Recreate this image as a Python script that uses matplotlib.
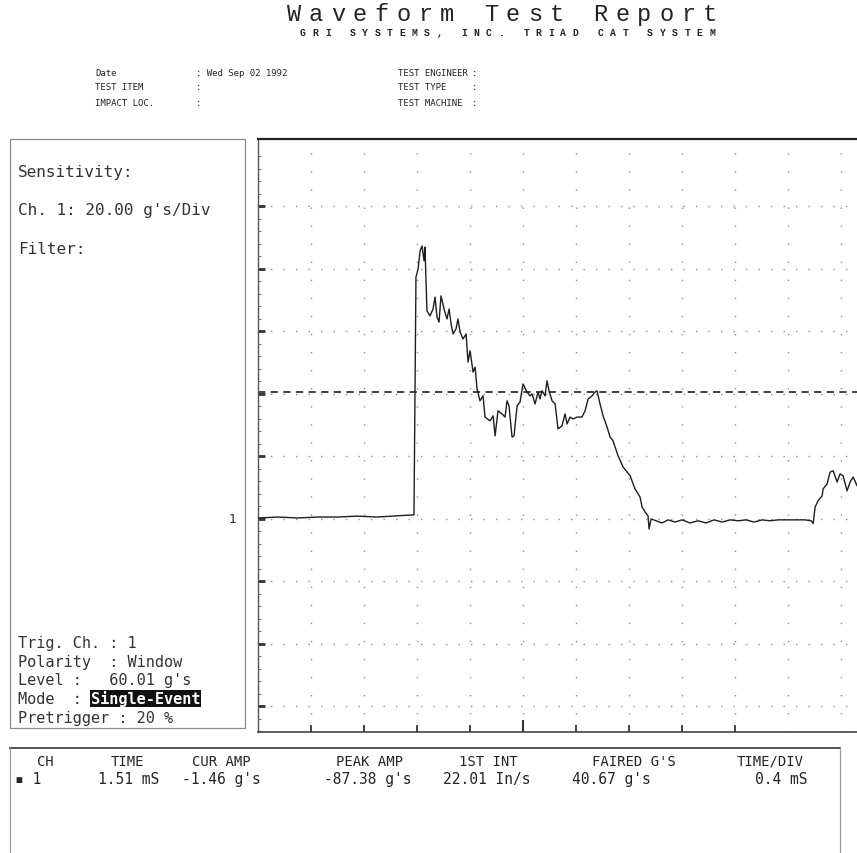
import matplotlib.pyplot as plt
from matplotlib.patches import Rectangle
from matplotlib.lines import Line2D
from matplotlib.ticker import FixedLocator
import matplotlib.transforms as mtransforms

# page size in pixels (dpi 100)
W, H = 857, 854

# channel 1 waveform: time (ms) and acceleration (g)
t_ms = [0.000, 0.150, 0.300, 0.450, 0.600, 0.750, 0.900, 1.050, 1.177,
        1.192, 1.208, 1.223, 1.238, 1.253, 1.260, 1.275, 1.298, 1.321, 1.336,
        1.351, 1.366, 1.381, 1.404, 1.426, 1.442, 1.457, 1.472, 1.494, 1.509,
        1.525, 1.547, 1.570, 1.585, 1.600, 1.623, 1.638, 1.653, 1.675, 1.698,
        1.713, 1.751, 1.774, 1.789, 1.811, 1.842, 1.864, 1.879, 1.894, 1.917,
        1.932, 1.955, 1.977, 2.000, 2.030, 2.053, 2.068, 2.091, 2.113, 2.128,
        2.143, 2.166, 2.181, 2.196, 2.219, 2.242, 2.264, 2.294, 2.317, 2.332,
        2.355, 2.377, 2.408, 2.445, 2.468, 2.491, 2.521, 2.543, 2.558, 2.581,
        2.604, 2.634, 2.657, 2.679, 2.717, 2.755, 2.808, 2.845, 2.883, 2.898,
        2.921, 2.943, 2.951, 2.966,
        3.004, 3.049, 3.094, 3.147, 3.200, 3.260, 3.321, 3.381, 3.442, 3.502,
        3.562, 3.623, 3.683, 3.743, 3.804, 3.864, 3.925, 4.015, 4.128, 4.174,
        4.189, 4.204, 4.226, 4.257, 4.264, 4.294, 4.317, 4.340, 4.370, 4.392,
        4.415, 4.445, 4.468, 4.491, 4.521]
accel_g = [0.3, 0.6, 0.3, 0.6, 0.6, 0.9, 0.6, 1.0, 1.3,
           77.4, 80.0, 85.8, 87.38, 82.6, 87.0, 66.6, 65.0, 67.2, 71.0,
           64.6, 63.0, 71.4, 67.2, 64.0, 67.2, 62.4, 59.2, 60.8, 64.0,
           59.8, 57.6, 59.2, 50.2, 53.8, 47.0, 48.6, 41.6, 37.8, 39.4,
           32.6, 31.4, 33.0, 26.6, 34.6, 33.6, 32.6, 37.8, 36.2, 26.2,
           26.6, 36.2, 37.4, 43.2, 40.6, 39.4, 40.0, 36.8, 40.6, 38.4,
           41.0, 39.4, 44.2, 41.0, 37.8, 36.8, 28.8, 29.8, 33.6, 30.4,
           32.6, 32.0, 32.6, 32.6, 34.6, 38.4, 39.4, 40.6, 41.0, 36.8,
           33.0, 29.4, 26.2, 25.0, 20.2, 16.6, 13.8, 9.6, 7.0, 3.8,
           2.2, 1.0, -3.2, 0.0,
           -0.6, -1.3, -0.3, -1.0, -0.3, -1.3, -0.6, -1.3, -0.3, -1.0,
           -0.3, -0.6, -0.3, -1.0, -0.3, -0.6, -0.3, -0.3, -0.3, -0.6,
           -1.46, 3.8, 5.8, 7.4, 9.6, 11.2, 15.0, 15.4, 11.8, 14.4,
           13.8, 9.0, 11.8, 13.4, 10.6]

faired_g = 40.67
g_per_div = 20
ms_per_div = 0.4

title = "Waveform Test Report"
subtitle = "GRI SYSTEMS, INC. TRIAD CAT SYSTEM"
info_left = [("Date", ": Wed Sep 02 1992"), ("TEST ITEM", ":"), ("IMPACT LOC.", ":")]
info_right = [("TEST ENGINEER", ":"), ("TEST TYPE", ":"), ("TEST MACHINE", ":")]

sens_lines = ["Sensitivity:", "Ch. 1: 20.00 g's/Div", "Filter:"]
trig_lines = ["Trig. Ch. : 1", "Polarity  : Window", "Level :   60.01 g's",
              "Mode  :", "Pretrigger : 20 %"]
mode_value = "Single-Event"

col_heads = ["CH", "TIME", "CUR AMP", "PEAK AMP", "1ST INT", "FAIRED G'S", "TIME/DIV"]
col_vals = ["\u25aa 1", "1.51 mS", "-1.46 g's", "-87.38 g's", "22.01 In/s", "40.67 g's", "0.4 mS"]


def fx(x):
    return x / W


def fy(y):
    return 1 - y / H


ink = '#242424'
soft = '#333333'
mono = 'DejaVu Sans Mono'

fig = plt.figure(figsize=(W / 100, H / 100), dpi=100)
fig.patch.set_facecolor('white')

# --- header ---
for i, ch in enumerate(title):
    fig.text(fx(294 + i * 21.9), fy(21), ch, ha='center', va='baseline',
             fontsize=17, family='Liberation Mono', color=ink)
for i, ch in enumerate(subtitle):
    fig.text(fx(303 + i * 12.4), fy(28.5), ch, ha='center', va='top',
             fontsize=7, family='Liberation Mono', weight='bold', color=ink)

for k, (lab, val) in enumerate(info_left):
    y = fy(73 + k * 15)
    fig.text(fx(95), y, lab, ha='left', va='center', fontsize=6.5, family=mono, color=ink)
    fig.text(fx(196), y, val, ha='left', va='center', fontsize=6.5, family=mono, color=ink)
for k, (lab, val) in enumerate(info_right):
    y = fy(73 + k * 15)
    fig.text(fx(398), y, lab, ha='left', va='center', fontsize=6.5, family=mono, color=ink)
    fig.text(fx(472), y, val, ha='left', va='center', fontsize=6.5, family=mono, color=ink)

# --- left settings panel ---
fig.add_artist(Rectangle((fx(10), fy(729)), fx(245) - fx(10), fy(140) - fy(729),
                         transform=fig.transFigure, fill=False, ec='#8a8a8a', lw=0.9))
for k, s in enumerate(sens_lines):
    fig.text(fx(18), fy(172 + k * 39), s, ha='left', va='center',
             fontsize=11.5, family=mono, color=soft)
for k, s in enumerate(trig_lines):
    fig.text(fx(18), fy(644 + k * 18.5), s, ha='left', va='center',
             fontsize=11, family=mono, color=soft)
fig.text(fx(91), fy(644 + 3 * 18.5), mode_value, ha='left', va='center',
         fontsize=11, family=mono, weight='bold', color='white',
         bbox=dict(facecolor='#111111', edgecolor='none', pad=0.6))

# --- waveform axes ---
ax = fig.add_axes([fx(258), fy(733), fx(857) - fx(258), fy(140) - fy(733)])
ax.set_xlim(0, 4.52)
ax.set_ylim(-68.2, 121.6)

for k in range(1, 12):
    ax.axvline(k * ms_per_div, color='#8c8c8c', lw=1.0, ls=(0, (1, 12)), zorder=1)
for g in range(-60, 101, g_per_div):
    ax.axhline(g, color='#8c8c8c', lw=1.0, ls=(0, (1, 8)), zorder=1)

ax.axhline(faired_g, color='#333333', lw=1.3, ls=(0, (4, 3)), zorder=2)
ax.plot(t_ms, accel_g, color='#1e1e1e', lw=1.0, zorder=3)

# channel zero marker
trans = mtransforms.blended_transform_factory(ax.transAxes, ax.transData)
ax.text(-0.043, 0, "1", transform=trans, ha='center', va='center',
        fontsize=9, family=mono, color=ink)

ax.spines['right'].set_visible(False)
ax.spines['top'].set_linewidth(1.6)
ax.spines['top'].set_color('#222222')
ax.spines['bottom'].set_linewidth(1.2)
ax.spines['bottom'].set_color('#444444')
ax.spines['left'].set_linewidth(1.0)
ax.spines['left'].set_color('#555555')

ax.xaxis.set_major_locator(FixedLocator([5 * ms_per_div]))
ax.xaxis.set_minor_locator(FixedLocator([k * ms_per_div for k in range(1, 10) if k != 5]))
ax.yaxis.set_major_locator(FixedLocator(list(range(-60, 101, g_per_div))))
ax.yaxis.set_minor_locator(FixedLocator([g for g in range(-68, 121, 4) if g % 20 != 0]))
ax.tick_params(axis='x', which='major', direction='in', length=9, width=1.5,
               color='#333333', labelbottom=False, top=False)
ax.tick_params(axis='x', which='minor', direction='in', length=5, width=1.3,
               color='#333333', top=False)
ax.tick_params(axis='y', which='major', direction='in', length=5, width=2,
               color='#333333', labelleft=False, right=False)
ax.tick_params(axis='y', which='minor', direction='in', length=2.5, width=0.8,
               color='#777777', right=False)

# --- measurement table ---
fig.add_artist(Line2D([fx(10), fx(840)], [fy(749), fy(749)], transform=fig.transFigure,
                      color='#444444', lw=1.3))
fig.add_artist(Line2D([fx(10), fx(10)], [fy(749), fy(854)], transform=fig.transFigure,
                      color='#999999', lw=0.9))
fig.add_artist(Line2D([fx(840), fx(840)], [fy(749), fy(854)], transform=fig.transFigure,
                      color='#999999', lw=0.9))

head_x = [45, 127, 221, 370, 488, 634, 770]
val_x = [28, 129, 221, 368, 487, 611, 781]
for h, v, hx, vx in zip(col_heads, col_vals, head_x, val_x):
    fig.text(fx(hx), fy(762), h, ha='center', va='center', fontsize=10, family=mono, color=ink)
    fig.text(fx(vx), fy(780), v, ha='center', va='center', fontsize=10.5, family=mono, color=ink)

fig.savefig('out.png', dpi=100, facecolor='white')
